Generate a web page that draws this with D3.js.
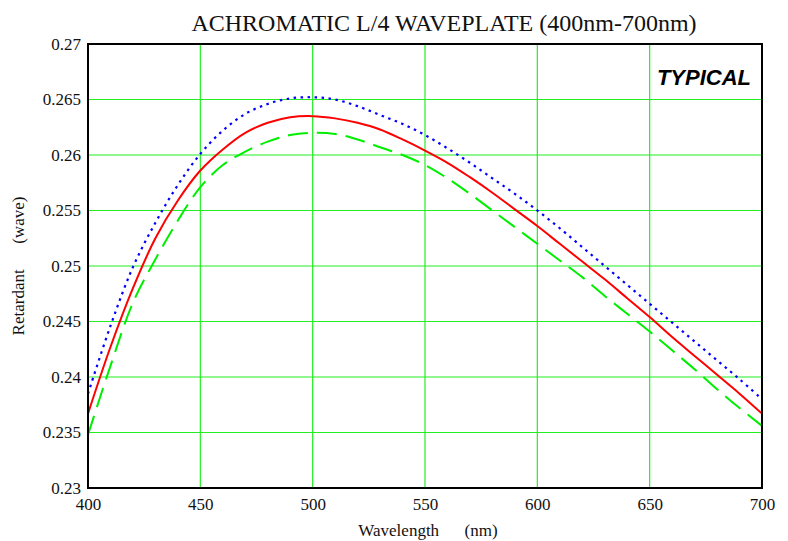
<!DOCTYPE html>
<html>
<head>
<meta charset="utf-8">
<title>Achromatic L/4 waveplate</title>
<script src="https://d3js.org/d3.v7.min.js"></script>
<style>
  body { margin: 0; background: #fff; }
  text { font-family: "Liberation Serif", "Times New Roman", serif; }
</style>
</head>
<body>
<script>
// wavelength (nm)
var wavelength = [400,410,420,430,440,450,460,470,480,490,500,510,520,530,540,550,
                  560,570,580,590,600,610,620,630,640,650,660,670,680,690,700];
// retardance (wave) - three curves
var retTypical = [0.2367,0.2427,0.2480,0.2525,0.2559,0.2586,0.2605,0.2620,0.2629,0.2634,0.2635,
                  0.2633,0.2629,0.2623,0.2614,0.2604,0.2593,0.2580,0.2566,0.2551,0.2536,
                  0.2520,0.2504,0.2488,0.2471,0.2454,0.2436,0.2419,0.2402,0.2385,0.2367];
var retUpper   = [0.2385,0.2446,0.2499,0.2539,0.2573,0.2601,0.2622,0.2637,0.2646,0.2651,0.2652,
                  0.2650,0.2644,0.2636,0.2628,0.2618,0.2606,0.2593,0.2579,0.2565,0.2550,
                  0.2534,0.2517,0.2500,0.2483,0.2466,0.2449,0.2432,0.2415,0.2398,0.2380];
var retLower   = [0.2348,0.2410,0.2467,0.2506,0.2541,0.2571,0.2591,0.2603,0.2612,0.2618,0.2620,
                  0.2619,0.2614,0.2607,0.2600,0.2591,0.2579,0.2565,0.2550,0.2535,0.2520,
                  0.2505,0.2490,0.2473,0.2457,0.2441,0.2424,0.2407,0.2389,0.2372,0.2356];
var xTicks = [400,450,500,550,600,650,700];
var yTicks = [0.23,0.235,0.24,0.245,0.25,0.255,0.26,0.265,0.27];

var W = 788, H = 541;
var mLeft = 88, mRight = 762, mTop = 44, mBottom = 488;

var svg = d3.select("body").append("svg")
  .attr("width", W).attr("height", H);

var x = d3.scaleLinear().domain([400,700]).range([mLeft,mRight]);
var y = d3.scaleLinear().domain([0.23,0.27]).range([mBottom,mTop]);

// grid
svg.append("g").selectAll("line")
  .data(xTicks.slice(1,-1)).enter().append("line")
  .attr("x1", function(d){ return x(d); }).attr("x2", function(d){ return x(d); })
  .attr("y1", mTop).attr("y2", mBottom)
  .attr("stroke", "#22ee22").attr("stroke-width", 1.2);
svg.append("g").selectAll("line")
  .data(yTicks.slice(1,-1)).enter().append("line")
  .attr("x1", mLeft).attr("x2", mRight)
  .attr("y1", function(d){ return y(d); }).attr("y2", function(d){ return y(d); })
  .attr("stroke", "#22ee22").attr("stroke-width", 1.2);

// axes labels
var xAxis = d3.axisBottom(x).tickValues(xTicks).tickSize(0).tickPadding(10)
  .tickFormat(d3.format("d"));
var gx = svg.append("g").attr("transform", "translate(0," + mBottom + ")").call(xAxis);
var yAxis = d3.axisLeft(y).tickValues(yTicks).tickSize(0).tickPadding(7)
  .tickFormat(function(d){ return String(+d.toFixed(3)); });
var gy = svg.append("g").attr("transform", "translate(" + mLeft + ",0)").call(yAxis);
[gx, gy].forEach(function(g){
  g.select(".domain").remove();
  g.selectAll("text").attr("font-family", "Liberation Serif, Times New Roman, serif")
    .attr("font-size", 17).attr("fill", "#111");
});

// curves
function lineFor(vals) {
  return d3.line()
    .x(function(d,i){ return x(wavelength[i]); })
    .y(function(d){ return y(d); })
    .curve(d3.curveCatmullRom)(vals);
}
svg.append("path").attr("d", lineFor(retLower)).attr("fill","none")
  .attr("stroke", "#00ee00").attr("stroke-width", 2).attr("stroke-dasharray", "20,9");
svg.append("path").attr("d", lineFor(retUpper)).attr("fill","none")
  .attr("stroke", "#0000ff").attr("stroke-width", 2.2).attr("stroke-dasharray", "2.5,4.5");
svg.append("path").attr("d", lineFor(retTypical)).attr("fill","none")
  .attr("stroke", "#ff0000").attr("stroke-width", 2);

// frame
svg.append("rect").attr("x", mLeft).attr("y", mTop)
  .attr("width", mRight-mLeft).attr("height", mBottom-mTop)
  .attr("fill", "none").attr("stroke", "#000").attr("stroke-width", 2);

// titles
svg.append("text").attr("x", 444).attr("y", 31).attr("text-anchor", "middle")
  .attr("font-size", 24).attr("fill", "#111")
  .text("ACHROMATIC L/4 WAVEPLATE (400nm-700nm)");
svg.append("text").attr("x", 428).attr("y", 536).attr("text-anchor", "middle")
  .attr("font-size", 17).attr("fill", "#111")
  .style("white-space", "pre")
  .text("Wavelength      (nm)");
svg.append("text").attr("transform", "translate(24,266) rotate(-90)")
  .attr("text-anchor", "middle").attr("font-size", 17).attr("fill", "#111")
  .style("white-space", "pre")
  .text("Retardant      (wave)");
svg.append("text").attr("x", 751).attr("y", 85).attr("text-anchor", "end")
  .style("font-family", "Liberation Sans, Arial, sans-serif")
  .attr("font-size", 22).attr("font-weight", "bold").attr("font-style", "italic")
  .text("TYPICAL");
</script>
</body>
</html>
